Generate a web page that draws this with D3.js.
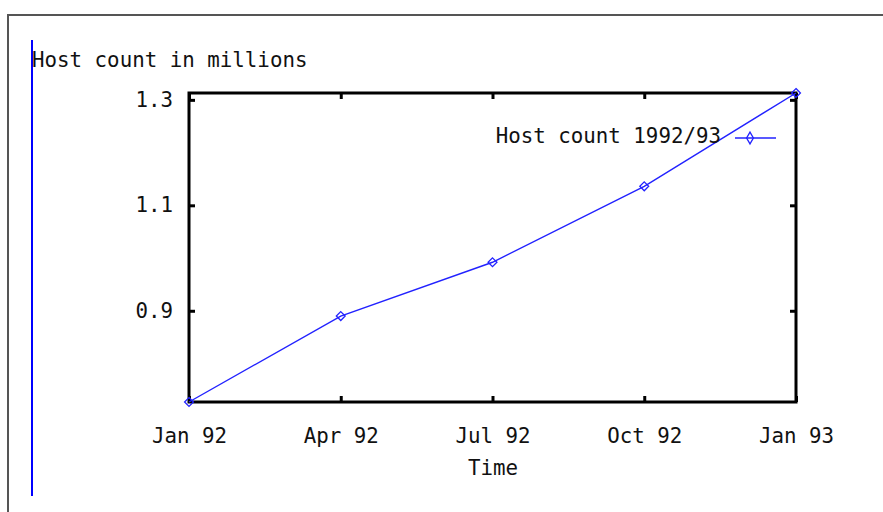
<!DOCTYPE html>
<html>
<head>
<meta charset="utf-8">
<script src="https://cdn.jsdelivr.net/npm/d3@7"></script>
<style>
  body { margin: 0; background: #fff; }
  svg { display: block; }
  text { font-family: "DejaVu Sans Mono", monospace; font-size: 20.8px; fill: #111; }
</style>
</head>
<body>
<svg width="883" height="512"></svg>
<script>
// data (host count in millions, quarterly)
const quarters = ["Jan 92", "Apr 92", "Jul 92", "Oct 92", "Jan 93"];
const hosts = [0.727, 0.890, 0.992, 1.136, 1.313];
const yTicks = [0.9, 1.1, 1.3];

const svg = d3.select("svg");
const plot = {left: 189, right: 796, top: 93, bottom: 402};
const lineColor = "#2222ff";

// page frame and the blue rule at the left
svg.append("path")
    .attr("d", "M8,512 V15 H883")
    .attr("fill", "none")
    .attr("stroke", "#555")
    .attr("stroke-width", 2);
svg.append("line")
    .attr("x1", 32).attr("x2", 32)
    .attr("y1", 40).attr("y2", 496)
    .attr("stroke", "#0000ff")
    .attr("stroke-width", 2);

// scales
let x = d3.scalePoint().domain(quarters).range([plot.left, plot.right]);
let y = d3.scaleLinear().domain([d3.min(hosts), d3.max(hosts)]).range([plot.bottom, plot.top]);

// axes, ticks pointing inwards
function styleAxis(g) {
    g.select(".domain").remove();
    g.selectAll(".tick line").attr("stroke", "#000").attr("stroke-width", 3);
    g.selectAll("text").attr("font-family", null).attr("font-size", null).attr("fill", "#111");
}

svg.append("g")
    .attr("transform", "translate(" + plot.left + ",0)")
    .call(d3.axisLeft(y).tickValues(yTicks).tickSize(-6).tickPadding(16).tickFormat(d3.format(".1f")))
    .call(styleAxis);

svg.append("g")
    .attr("transform", "translate(" + plot.right + ",0)")
    .call(d3.axisRight(y).tickValues(yTicks).tickSize(-6).tickFormat(""))
    .call(styleAxis);

svg.append("g")
    .attr("transform", "translate(0," + plot.bottom + ")")
    .call(d3.axisBottom(x).tickSize(-6).tickPadding(26))
    .call(styleAxis);

svg.append("g")
    .attr("transform", "translate(0," + plot.top + ")")
    .call(d3.axisTop(x).tickSize(-6).tickFormat(""))
    .call(styleAxis);

// plot border
svg.append("rect")
    .attr("x", plot.left).attr("y", plot.top)
    .attr("width", plot.right - plot.left)
    .attr("height", plot.bottom - plot.top)
    .attr("fill", "none")
    .attr("stroke", "#000")
    .attr("stroke-width", 3);

// titles
svg.append("text")
    .attr("x", 32).attr("y", 67)
    .text("Host count in millions");
svg.append("text")
    .attr("x", 493).attr("y", 475)
    .attr("text-anchor", "middle")
    .text("Time");

// the series
const points = d3.zip(quarters, hosts);
const diamond = d3.symbol().type(d3.symbolDiamond2).size(50);
const legendDiamond = d3.symbol().type(d3.symbolDiamond).size(40);

svg.append("path")
    .datum(points)
    .attr("fill", "none")
    .attr("stroke", lineColor)
    .attr("stroke-width", 1.4)
    .attr("d", d3.line().x(d => x(d[0])).y(d => y(d[1])));

svg.selectAll(".pt")
    .data(points)
    .enter().append("path")
    .attr("class", "pt")
    .attr("transform", d => "translate(" + x(d[0]) + "," + y(d[1]) + ")")
    .attr("d", diamond)
    .attr("fill", "none")
    .attr("stroke", lineColor)
    .attr("stroke-width", 1.3);

// legend
const legend = svg.append("g").attr("transform", "translate(0,138)");
legend.append("text")
    .attr("x", 721).attr("y", 5)
    .attr("text-anchor", "end")
    .text("Host count 1992/93");
legend.append("line")
    .attr("x1", 735).attr("x2", 776)
    .attr("stroke", lineColor)
    .attr("stroke-width", 1.4);
legend.append("path")
    .attr("transform", "translate(750,0)")
    .attr("d", legendDiamond)
    .attr("fill", "none")
    .attr("stroke", lineColor)
    .attr("stroke-width", 1.3);
</script>
</body>
</html>
